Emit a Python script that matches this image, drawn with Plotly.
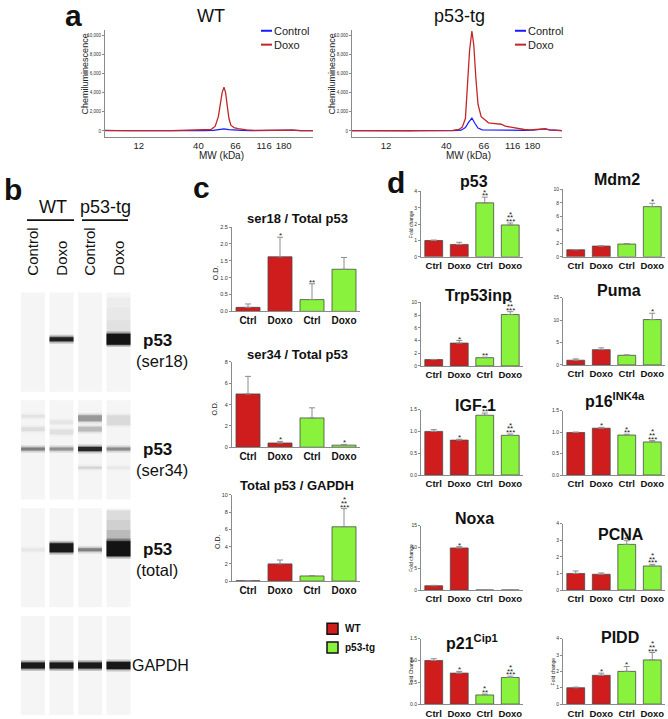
import plotly.graph_objects as go

W, H = 668, 719
FONT = "Liberation Sans"
RED = "#cf1d1d"
GREEN = "#88f23c"
BAR_LINE = "#4a4a4a"
AX = "#8a8a8a"
BLUE_LINE = "#1a1aff"
RED_LINE = "#c42626"

# ---------------- Data ----------------
# Panel a: electropherograms (position along capillary, 0-100 scale)
mw_tick_pos = [16.2, 44.9, 62.8, 76.5, 85.9]
mw_tick_lab = ["12", "40", "66", "116", "180"]
chemi_ticks = [0, 2000, 4000, 6000, 8000, 10000]

wt_doxo_pos = [0, 4, 8, 12, 16, 20, 24, 28, 32, 36, 40, 44, 48, 51, 53, 54.5, 55.5, 56.3, 57.2,
               58, 58.8, 59.6, 60.5, 62, 64, 66, 68, 72, 76, 80, 84, 87, 90, 94, 100]
wt_doxo = [40, 20, 50, 30, 40, 60, 90, 40, 30, 50, 30, 40, 60, 150, 500, 1500, 2900, 4000, 4600,
           4000, 2600, 1300, 600, 350, 250, 150, 120, 60, 80, 40, 60, 120, 80, 40, 30]
wt_ctrl_pos = [0, 4, 8, 12, 16, 20, 24, 28, 32, 36, 40, 44, 48, 52, 55, 57.2, 59.5, 62, 66, 70,
               74, 78, 82, 85, 87, 90, 94, 100]
wt_ctrl = [60, 30, 50, 20, 40, 30, 80, 30, 20, 40, 20, 30, 40, 60, 150, 220, 130, 80, 60, 30,
           50, 30, 60, 120, 140, 90, 40, 20]

tg_doxo_pos = [0, 4, 8, 12, 16, 20, 24, 28, 32, 36, 40, 44, 48, 51, 52.5, 54, 55, 56, 57.1, 58,
               59, 60, 61.5, 63, 65, 67, 69, 71, 73, 75, 77, 79, 82, 85, 88, 90, 92, 94, 97, 100]
tg_doxo = [30, 20, 40, 30, 20, 40, 30, 20, 30, 20, 40, 30, 60, 150, 400, 1300, 4500, 8500, 10500, 9000,
           5500, 2800, 1500, 1250, 850, 800, 750, 700, 500, 420, 300, 220, 150, 120, 150, 200, 230, 120, 60, 40]
tg_ctrl_pos = [0, 4, 8, 12, 16, 20, 24, 28, 32, 36, 40, 44, 48, 52, 54, 55.5, 57.1, 58.5, 60, 62,
               66, 70, 74, 78, 82, 86, 90, 92, 94, 97, 100]
tg_ctrl = [40, 30, 20, 30, 40, 20, 30, 20, 30, 40, 20, 30, 40, 80, 350, 900, 1350, 800, 300, 120,
           100, 80, 90, 60, 50, 80, 150, 200, 120, 50, 30]

# Panel b: capillary western "gel" bands
gel_lanes = ["Control", "Doxo", "Control", "Doxo"]
band_block = [0, 0, 1, 1, 1, 1, 1, 1, 1, 1, 1, 1, 1, 1, 1, 2, 2, 2, 2, 3, 3, 3, 3]
band_lane = [1, 3, 0, 0, 0, 1, 1, 1, 2, 2, 2, 2, 3, 3, 3, 0, 1, 2, 3, 0, 1, 2, 3]
band_pos = [47, 47, 16, 29, 49, 22, 32, 49, 18, 29, 49, 68, 20, 49, 68, 42, 40, 42, 41, 50, 50, 50, 50]
band_size = [4, 11, 3, 4, 3, 4, 5, 3, 6, 5, 4, 2, 10, 3, 2, 3, 9, 3, 15, 6, 6, 6, 7]
band_dark = [0.9, 1.0, 0.05, 0.07, 0.4, 0.04, 0.06, 0.33, 0.3, 0.18, 0.85, 0.1, 0.08, 0.35, 0.04,
             0.04, 0.95, 0.4, 1.0, 0.95, 0.95, 0.95, 0.97]
smear_block = [0, 0, 0, 2, 2, 2, 2]
smear_lane = [3, 3, 3, 3, 3, 3, 3]
smear_top = [5, 15, 28, 2, 12, 22, 30]
smear_bot = [15, 28, 41, 12, 22, 30, 34]
smear_dark = [0.03, 0.05, 0.08, 0.1, 0.15, 0.24, 0.36]

# Panels c and d: bar charts
groups = ["Ctrl", "Doxo", "Ctrl", "Doxo"]
bar_colors = [RED, RED, GREEN, GREEN]

c_titles = ["ser18 / Total p53", "ser34 / Total p53", "Total p53 / GAPDH"]
c_means = [[0.12, 1.62, 0.35, 1.25], [5.0, 0.4, 2.75, 0.2], [0.05, 2.0, 0.6, 6.3]]
c_err = [[0.10, 0.58, 0.47, 0.35], [1.65, 0.15, 0.95, 0.07], [0.02, 0.45, 0.05, 2.1]]
c_stars = [[[], [1], [2], []], [[], [1], [], [1]], [[], [], [], [3, 2, 1]]]
c_ymax = [2.5, 8, 10]
c_dtick = [0.5, 2, 2]
c_fmt = [".1f", "", ""]

d_titles = ["p53", "Mdm2", "Trp53inp", "Puma", "IGF-1", "p16<sup>INK4a</sup>",
            "Noxa", "PCNA", "p21<sup>Cip1</sup>", "PIDD"]
d_means = [[1.0, 0.76, 3.3, 1.95], [1.05, 1.6, 1.9, 7.45], [1.0, 3.6, 1.3, 8.1], [1.05, 3.4, 2.15, 10.1],
           [1.0, 0.8, 1.37, 0.91], [0.99, 1.09, 0.93, 0.77], [1.0, 9.8, 0, 0], [1.0, 0.95, 2.75, 1.45],
           [1.0, 0.71, 0.21, 0.61], [1.0, 1.76, 2.0, 2.7]]
d_err = [[0.03, 0.13, 0.35, 0.12], [0.03, 0.05, 0.06, 0.5], [0.03, 0.4, 0.08, 0.45], [0.3, 0.4, 0.08, 1.4],
         [0.04, 0.02, 0.05, 0.03], [0.01, 0.02, 0.02, 0.03], [0.1, 0.3, 0, 0], [0.15, 0.08, 0.22, 0.1],
         [0.04, 0.04, 0.02, 0.03], [0.04, 0.13, 0.3, 0.45]]
d_stars = [[[], [], [2, 1], [3, 2, 1]], [[], [], [], [1]], [[], [1], [2], [3, 2, 1]], [[], [], [], [1]],
           [[], [1], [2, 1], [3, 2, 1]], [[], [1], [2, 1], [3, 2, 1]], [[], [1], [], []],
           [[], [], [2, 1], [3, 2, 1]], [[], [1], [2, 1], [3, 2, 1]], [[], [1], [1], [3, 2, 1]]]
d_ymax = [4, 10, 10, 15, 1.5, 1.5, 15, 4, 1.5, 4]
d_dtick = [1, 2, 2, 5, 0.5, 0.5, 5, 1, 0.5, 1]
d_fmt = ["", "", "", "", ".1f", ".1f", "", "", ".1f", ""]
d_ylabel = ["Fold change", "", "", "", "", "", "Fold change", "", "Fold Change", "Fold change"]

# ---------------- Layout geometry (pixels) ----------------
def fx(p):
    return p / W


def fy(p):
    return 1 - p / H


def dom_x(a, b):
    return [a / W, b / W]


def dom_y(top, bot):
    return [1 - bot / H, 1 - top / H]


fig = go.Figure()
layout = {}
annotations = []
shapes = []
counter = [0]


def new_axes():
    counter[0] += 1
    i = counter[0]
    xa = "xaxis" if i == 1 else f"xaxis{i}"
    ya = "yaxis" if i == 1 else f"yaxis{i}"
    xr = "x" if i == 1 else f"x{i}"
    yr = "y" if i == 1 else f"y{i}"
    return xa, ya, xr, yr


def text(x, y, s, size, bold=False, xanchor="center", yanchor="middle", angle=0, color="#111"):
    annotations.append(dict(
        x=fx(x), y=fy(y), xref="paper", yref="paper", showarrow=False,
        text=f"<b>{s}</b>" if bold else s, font=dict(size=size, color=color, family=FONT),
        xanchor=xanchor, yanchor=yanchor, textangle=angle))


# ---------- Panel a ----------
a_boxes = [(105, 313, 27, 135), (352, 562, 27, 135)]
a_data = [(wt_ctrl_pos, wt_ctrl, wt_doxo_pos, wt_doxo), (tg_ctrl_pos, tg_ctrl, tg_doxo_pos, tg_doxo)]
a_titles = ["WT", "p53-tg"]
for (x0, x1, y0, y1), (cx, cy, dx, dy), ttl in zip(a_boxes, a_data, a_titles):
    xa, ya, xr, yr = new_axes()
    layout[xa] = dict(domain=dom_x(x0, x1), range=[0, 100], anchor=yr, showline=True, linecolor=AX,
                      linewidth=1, tickvals=mw_tick_pos, ticktext=mw_tick_lab, ticks="",
                      tickfont=dict(size=9.5, color="#222"), showgrid=False, zeroline=False)
    layout[ya] = dict(domain=dom_y(y0, y1), range=[-625, 10625], anchor=xr, showline=True, linecolor=AX,
                      linewidth=1, tickvals=chemi_ticks, tickformat=",", ticks="outside", ticklen=2,
                      tickcolor=AX, tickfont=dict(size=4.5, color="#333"), showgrid=False, zeroline=False)
    fig.add_trace(go.Scatter(x=cx, y=cy, mode="lines", line=dict(color=BLUE_LINE, width=1.2),
                             xaxis=xr, yaxis=yr, showlegend=False))
    fig.add_trace(go.Scatter(x=dx, y=dy, mode="lines", line=dict(color=RED_LINE, width=1.3),
                             xaxis=xr, yaxis=yr, showlegend=False))
    text((x0 + x1) / 2 + 2, 13, ttl, 18)
    text((x0 + x1) / 2 + 12, 154, "MW (kDa)", 10, color="#222")
    text(x0 - 20, 72, "Chemiluminescence", 9, angle=-90, color="#222")
    # legend
    lx = x1 - 52 if ttl == "WT" else x1 - 47
    for k, (lab, col) in enumerate([("Control", BLUE_LINE), ("Doxo", RED_LINE)]):
        yy = 28 + 14 * k
        shapes.append(dict(type="line", xref="paper", yref="paper", x0=fx(lx), x1=fx(lx + 11),
                           y0=fy(yy), y1=fy(yy), line=dict(color=col, width=2)))
        text(lx + 11, yy, lab, 11, xanchor="left", color="#222")

text(73, 13, "a", 30, bold=True)

# ---------- Panel b (gel) ----------
xa, ya, gx, gy = new_axes()
layout[xa] = dict(domain=dom_x(18.75, 132.75), range=[-0.5, 3.5], visible=False, anchor=gy)
layout[ya] = dict(domain=dom_y(290, 719), range=[429, 0], visible=False, anchor=gx)
fig.add_trace(go.Scatter(x=[0, 3], y=[0, 429], mode="markers", marker=dict(opacity=0),
                         xaxis=gx, yaxis=gy, showlegend=False, hoverinfo="skip"))
BLOCK_TOP0, BLOCK_H, BLOCK_STEP, LANE_HALF = 2, 100, 108.7, 0.42
for b in range(4):
    top = BLOCK_TOP0 + b * BLOCK_STEP
    for ln in range(len(gel_lanes)):
        shapes.append(dict(type="rect", xref=gx, yref=gy, x0=ln - LANE_HALF, x1=ln + LANE_HALF,
                           y0=top, y1=top + BLOCK_H, fillcolor="#f5f5f5", line=dict(width=0), layer="below"))
for bl, ln, t0, t1, dk in zip(smear_block, smear_lane, smear_top, smear_bot, smear_dark):
    top = BLOCK_TOP0 + bl * BLOCK_STEP
    shapes.append(dict(type="rect", xref=gx, yref=gy, x0=ln - LANE_HALF, x1=ln + LANE_HALF,
                       y0=top + t0, y1=top + t1, fillcolor="black", opacity=dk, line=dict(width=0)))
for bl, ln, pos, sz, dk in zip(band_block, band_lane, band_pos, band_size, band_dark):
    top = BLOCK_TOP0 + bl * BLOCK_STEP
    c = top + pos
    shapes.append(dict(type="rect", xref=gx, yref=gy, x0=ln - LANE_HALF, x1=ln + LANE_HALF,
                       y0=c - sz / 2 - 2.5, y1=c + sz / 2 + 2.5, fillcolor="black", opacity=dk * 0.2,
                       line=dict(width=0)))
    shapes.append(dict(type="rect", xref=gx, yref=gy, x0=ln - LANE_HALF, x1=ln + LANE_HALF,
                       y0=c - sz / 2 - 1, y1=c + sz / 2 + 1, fillcolor="black", opacity=dk * 0.35,
                       line=dict(width=0)))
    shapes.append(dict(type="rect", xref=gx, yref=gy, x0=ln - LANE_HALF, x1=ln + LANE_HALF,
                       y0=c - sz / 2, y1=c + sz / 2, fillcolor="black", opacity=dk * 0.85,
                       line=dict(width=0)))
for ln, lab in enumerate(gel_lanes):
    annotations.append(dict(x=ln, y=fy(277), xref=gx, yref="paper", text=lab, showarrow=False,
                            textangle=-90, yanchor="bottom", xanchor="center",
                            font=dict(size=15, family=FONT, color="#111")))
text(53, 206, "WT", 18)
text(105, 206, "p53-tg", 18)
shapes.append(dict(type="line", xref="paper", yref="paper", x0=fx(27), x1=fx(74), y0=fy(219), y1=fy(219),
                   line=dict(color="#111", width=1.6)))
shapes.append(dict(type="line", xref="paper", yref="paper", x0=fx(82), x1=fx(128), y0=fy(219), y1=fy(219),
                   line=dict(color="#111", width=1.6)))
for yy, sub in [(340, "(ser18)"), (450, "(ser34)"), (551, "(total)")]:
    text(141, yy, "p53", 17, bold=True, xanchor="left")
    text(134, yy + 21, sub, 16.5, xanchor="left")
text(130, 668, "GAPDH", 16, xanchor="left")
text(13, 188, "b", 30, bold=True)


# ---------- Bar chart helper ----------
def bar_chart(x0, x1, y0, y1, means, errs, stars, ymax, dtick, fmt, bw, ticksize, tickfont_y):
    xa, ya, xr, yr = new_axes()
    layout[xa] = dict(domain=dom_x(x0, x1), range=[-0.5, 3.5], anchor=yr, showline=True, linecolor=AX,
                      linewidth=1, tickvals=[0, 1, 2, 3], ticktext=[f"<b>{g}</b>" for g in groups],
                      ticks="", tickfont=dict(size=ticksize, color="#111"), showgrid=False, zeroline=False)
    layout[ya] = dict(domain=dom_y(y0, y1), range=[0, ymax], anchor=xr, showline=True, linecolor=AX,
                      linewidth=1, dtick=dtick, tick0=0, tickformat=fmt, ticks="outside", ticklen=2,
                      tickcolor=AX, tickfont=dict(size=tickfont_y, color="#333"), showgrid=False,
                      zeroline=False)
    fig.add_trace(go.Bar(x=[0, 1, 2, 3], y=means, width=bw, xaxis=xr, yaxis=yr, showlegend=False,
                         marker=dict(color=bar_colors, line=dict(color=BAR_LINE, width=0.8)),
                         error_y=dict(type="data", array=errs, arrayminus=[0] * 4, symmetric=False,
                                      color="#8c8c8c", thickness=1, width=3)))
    for k, rows in enumerate(stars):
        top = means[k] + errs[k]
        for r, n in enumerate(rows):
            annotations.append(dict(x=k, y=top, xref=xr, yref=yr, text="*" * n, showarrow=False,
                                    yanchor="bottom", yshift=-5 + 3.6 * r,
                                    font=dict(size=8, family=FONT, color="#222")))
    return xr, yr


# ---------- Panel c ----------
c_boxes = [(226, 311), (362, 448), (496, 583)]
c_title_y = [217, 354, 487]
c_od_x = [215, 215, 218]
for i in range(3):
    y0, y1 = c_boxes[i]
    bar_chart(232, 360, y0, y1, c_means[i], c_err[i], c_stars[i], c_ymax[i], c_dtick[i], c_fmt[i],
              0.75, 10, 5.5)
    text(297, c_title_y[i], c_titles[i], 13, bold=True)
    text(c_od_x[i], (y0 + y1) / 2 + 4, "O.D.", 7, angle=-90, color="#222")
text(201, 186, "c", 30, bold=True)
# legend
for k, (lab, col) in enumerate([("WT", RED), ("p53-tg", GREEN)]):
    yy = 631 + 19 * k
    shapes.append(dict(type="rect", xref="paper", yref="paper", x0=fx(327), x1=fx(338),
                       y0=fy(yy + 5.5), y1=fy(yy - 5.5), fillcolor=col, line=dict(color="#111", width=1.5)))
    text(343, yy, lab, 10, bold=True, xanchor="left")

# ---------- Panel d ----------
d_cols = [(421, 523), (563, 665)]
d_boxes = [(190, 256), (188, 256), (302, 366), (297, 365), (410, 476), (411, 476),
           (527, 592), (525, 592), (641, 707), (641, 707)]
d_title_pos = [(474, 180), (617, 178), (478, 295), (619, 290), (475, 406), (615, 400),
               (474, 520), (621, 536), (472, 644), (620, 640)]
for i in range(10):
    x0, x1 = d_cols[i % 2]
    y0, y1 = d_boxes[i]
    bar_chart(x0, x1, y0, y1, d_means[i], d_err[i], d_stars[i], d_ymax[i], d_dtick[i], d_fmt[i],
              0.7, 9.5, 5)
    tx, ty = d_title_pos[i]
    text(tx, ty, d_titles[i], 16, bold=True)
    if d_ylabel[i]:
        text(x0 - 10, (y0 + y1) / 2, d_ylabel[i], 5, angle=-90, color="#222")
text(396, 181, "d", 30, bold=True)

layout.update(dict(
    width=W, height=H, margin=dict(l=0, r=0, t=0, b=0), paper_bgcolor="white", plot_bgcolor="white",
    font=dict(family=FONT, color="#111"), showlegend=False, bargap=0.25,
    annotations=annotations, shapes=shapes,
))
fig.update_layout(**layout)
fig.write_html("out.html", config={"displayModeBar": False},
               post_script="document.body.style.margin='0px';document.body.style.overflow='hidden';")
